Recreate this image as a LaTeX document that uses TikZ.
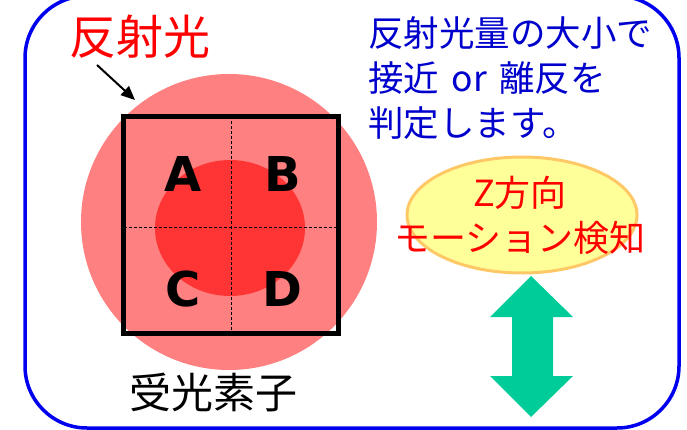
\documentclass[tikz,border=0pt]{standalone}
\usepackage{fontspec}
\setmainfont{Noto Sans CJK JP}
\newfontfamily\latinbold{DejaVu Sans}
\usetikzlibrary{shapes.geometric,arrows.meta}
\definecolor{outerred}{HTML}{FF8080}
\definecolor{innerred}{HTML}{FF3535}
\definecolor{frameblue}{HTML}{0000EE}
\definecolor{textblue}{HTML}{0000CC}
\definecolor{ellfill}{HTML}{FFFF99}
\definecolor{elldraw}{HTML}{FFC866}
\definecolor{arrowgreen}{HTML}{00CC99}
\tikzset{
  quad/.style={font=\latinbold\bfseries\fontsize{48}{48}\selectfont, text=black, inner sep=0pt},
  redlabel/.style={text=red, inner sep=0pt},
  divider/.style={dashed, line width=0.8pt, dash pattern=on 3pt off 2pt},
}
\begin{document}
\begin{tikzpicture}[x=1pt,y=-1pt]
\useasboundingbox (0,0) rectangle (687,430);
% frame
\draw[frameblue, line width=3.5pt, rounded corners=62pt] (25,-4) rectangle (679,428);
% circles
\fill[outerred] (229,222) circle[radius=148];
\fill[innerred] (230,228) ellipse[x radius=75, y radius=68];
% dividers
\coordinate (vt) at (231,116.5);
\coordinate (vb) at (231,336);
\coordinate (hl) at (123.5,227);
\coordinate (hr) at (338.5,227);
\draw[divider] (vt) -- (vb);
\draw[divider] (hl) -- (hr);
% square
\node[draw=black, line width=5pt, minimum width=215pt, minimum height=217pt, inner sep=0pt] (sq) at (231,225) {};
% letters
\node[quad] (A) at (183,174) {A};
\node[quad] (B) at (283,174) {B};
\node[quad] (C) at (183,289) {C};
\node[quad] (D) at (282,289) {D};
% labels
\node[redlabel, font=\fontsize{47}{47}\selectfont] (refl) at (140,37) {反射光};
\coordinate (arrtip) at (135,100);
\draw[-{Triangle[length=14pt,width=12pt]}, line width=2pt] (97,65) -- (arrtip);
\node[inner sep=0pt, font=\fontsize{42}{42}\selectfont] (sensor) at (213,393) {受光素子};
% right text
\node[text=textblue, anchor=north west, align=left, inner sep=0pt, font=\fontsize{35.5}{45}\selectfont] (desc) at (368,16) {反射光量の大小で\\接近\hspace{0.35em}or\hspace{0.35em}離反を\\判定します。};
% ellipse
\node[ellipse, fill=ellfill, draw=elldraw, line width=3pt, minimum width=230pt, minimum height=116pt, inner sep=0pt] (ell) at (522,215) {};
\node[redlabel, align=center, font=\fontsize{36}{45}\selectfont] (zlabel) at (520,215) {Z方向\\モーション検知};
% green double arrow
\fill[arrowgreen] (531,276) -- (573,317) -- (553,317) -- (553,376) -- (573,376) -- (531,417) -- (490,376) -- (512,376) -- (512,317) -- (490,317) -- cycle;
\end{tikzpicture}
\end{document}
